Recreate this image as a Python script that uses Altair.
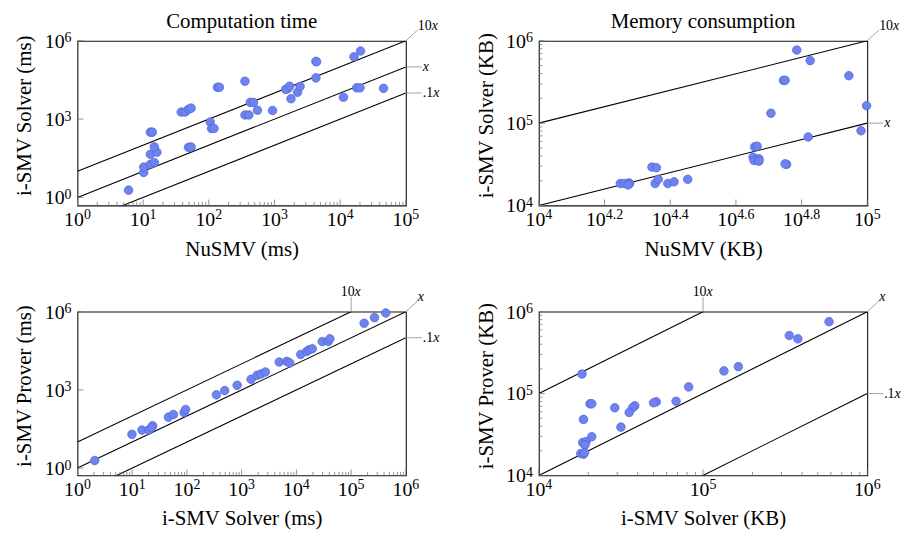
import altair as alt
import pandas as pd
import numpy as np

FONT = "Liberation Serif"
PT_FILL = "#6E83F0"
PT_STROKE = "#4F62D6"
TICK = "#777777"
PIN = "#8a8a8a"

# ---- data ----
# Computation time: NuSMV (ms) vs i-SMV Solver (ms)
ct_nusmv = [6.0, 10.2, 10.2, 12.9, 14.8, 12.9, 16.2, 14.8, 12.9, 13.8, 49, 53.7, 38, 43.6,
            49, 53.7, 105, 110, 120, 135, 145, 355, 355, 407, 427, 479, 550, 933, 1585,
            1480, 1700, 1780, 2240, 2450, 4270, 4270, 4365, 11200, 16200, 20400, 17800,
            20000, 45700]
ct_solver = [1.9, 9.0, 14.5, 18.6, 21.6, 45, 54, 87, 316, 316, 83, 85, 1860, 1860, 2400,
             2630, 776, 437, 437, 16600, 16600, 28200, 1445, 1445, 4365, 4365, 2190, 2140,
             14450, 13800, 18200, 6030, 10700, 17800, 38000, 162000, 158000, 6900, 245000,
             407000, 15800, 15800, 15100]
# Memory consumption: NuSMV (KB) vs i-SMV Solver (KB)
mem_nusmv = [61000, 67000, 87900, 55600, 56200, 50900, 99500, 95700, 66100, 45400, 46200,
             44900, 45200, 46800, 46800, 56800, 56200, 22100, 22800, 22600, 23100, 17700,
             18200, 18800, 18900, 18700, 24700, 25800, 28400]
mem_solver = [773000, 575000, 377000, 331000, 331000, 132000, 163000, 80900, 67900, 51500,
              52500, 38600, 35200, 37000, 34600, 31600, 32000, 29300, 28800, 18500, 20800,
              18500, 18500, 18800, 18500, 17800, 18500, 19400, 20800]
# i-SMV Solver (ms) vs i-SMV Prover (ms)
pr_solver_ms = [2.07, 9.9, 15.1, 20, 23.6, 22.4, 45.9, 56.6, 88.5, 94.6, 345, 490, 828, 1486,
                1910, 2250, 2710, 4860, 6680, 7570, 12000, 15400, 17000, 19500, 29600, 38000,
                40800, 173000, 267000, 429000]
pr_prover_ms = [1.95, 19.7, 28.7, 28.7, 42.3, 35.5, 90, 114, 136, 177, 646, 940, 1500, 2540,
                3600, 4070, 4860, 11700, 12400, 10700, 22900, 29700, 34500, 37700, 71600,
                71600, 90800, 361000, 590000, 891000]
# i-SMV Solver (KB) vs i-SMV Prover (KB)
pr_solver_kb = [585000, 335000, 378000, 164000, 134000, 81700, 68500, 51900, 50000, 38400,
                37200, 35500, 29000, 31600, 20500, 21000, 18300, 18700, 21000, 18500, 19400,
                19100, 18000, 18700, 19000]
pr_prover_kb = [755000, 511000, 466000, 213000, 189000, 120500, 80500, 79300, 77100, 71000,
                67000, 58700, 67000, 38900, 75000, 75000, 173000, 48300, 29700, 25200, 25900,
                23600, 18500, 18200, 19000]

# tick label positions
p1_xlabels = [1, 10, 100, 1e3, 1e4, 1e5]
p1_ylabels = [1, 1e3, 1e6]
p2_xlabels = [1e4, 10 ** 4.2, 10 ** 4.4, 10 ** 4.6, 10 ** 4.8, 1e5]
p2_ylabels = [1e4, 1e5, 1e6]
p3_xlabels = [1, 10, 100, 1e3, 1e4, 1e5, 1e6]
p3_ylabels = [1, 1e3, 1e6]
p4_xlabels = [1e4, 1e5, 1e6]
p4_ylabels = [1e4, 1e5, 1e6]

line_coefs = [10, 1, 0.1]

W = 331
BASE_FS = 20
EXP_FS = 14


def exp_str(v):
    return "%g" % round(float(np.log10(v)), 1)


def exp_width(s):
    return sum(3.5 if c == "." else 7.0 for c in s)


def minor_ticks(lo, hi):
    return [m * 10.0 ** d for d in range(lo, hi) for m in range(2, 10)]


def panel(xs, ys, xdom, ydom, xlab, ylab, xtitle, ytitle, H, coefs, xline,
          xmajor, xminor, ymajor, yminor, pins, title=None):
    xsc = alt.Scale(type="log", domain=xdom, nice=False)
    ysc = alt.Scale(type="log", domain=ydom, nice=False)
    xax = alt.Axis(values=xlab, labels=False, title=xtitle,
                   titleY=50, titleBaseline="alphabetic")
    yax = alt.Axis(values=ylab, labels=False, title=ytitle,
                   titleX=-47, titleY=H / 2 - 8, titleBaseline="alphabetic")
    X = lambda f: alt.X(f, type="quantitative", scale=xsc, axis=xax)
    Y = lambda f: alt.Y(f, type="quantitative", scale=ysc, axis=yax)

    layers = []
    # reference lines y = k x
    rows = []
    for k in coefs:
        for xv in xline:
            rows.append({"x": xv, "y": k * xv, "k": str(k)})
    layers.append(alt.Chart(pd.DataFrame(rows)).mark_line(
        clip=True, color="black", strokeWidth=1.1).encode(
        x=X("x"), y=Y("y"), detail="k:N"))

    # inside ticks
    def xt(vals, L):
        return alt.Chart(pd.DataFrame({"x": vals})).mark_rule(
            color=TICK, strokeWidth=0.8).encode(
            x=X("x"), y=alt.value(H), y2=alt.value(H - L))

    def yt(vals, L):
        return alt.Chart(pd.DataFrame({"y": vals})).mark_rule(
            color=TICK, strokeWidth=0.8).encode(
            y=Y("y"), x=alt.value(0), x2=alt.value(L))

    if xmajor:
        layers.append(xt(xmajor, 6))
    if xminor:
        layers.append(xt(xminor, 3.5))
    if ymajor:
        layers.append(yt(ymajor, 6))
    if yminor:
        layers.append(yt(yminor, 3.5))

    # tick labels 10^e  (base + raised exponent)
    xdf = pd.DataFrame({"x": xlab, "e": [exp_str(v) for v in xlab]})
    xdf["n"] = xdf["e"].str.len()
    for n, g in xdf.groupby("n"):
        ew = exp_width(g["e"].iloc[0])
        d = (20 - ew) / 2
        c = alt.Chart(g)
        layers.append(c.mark_text(text="10", font=FONT, fontSize=BASE_FS, align="right",
                                  baseline="alphabetic", dx=d, color="black")
                      .encode(x=X("x"), y=alt.value(H + 21)))
        layers.append(c.mark_text(font=FONT, fontSize=EXP_FS, align="left",
                                  baseline="alphabetic", dx=d, color="black")
                      .encode(x=X("x"), y=alt.value(H + 14), text="e:N"))
    ydf = pd.DataFrame({"y": ylab, "e": [exp_str(v) for v in ylab]})
    ew = exp_width(ydf["e"].iloc[0])
    c = alt.Chart(ydf)
    layers.append(c.mark_text(text="10", font=FONT, fontSize=BASE_FS, align="right",
                              baseline="alphabetic", dy=7, dx=-6 - ew, color="black")
                  .encode(x=alt.value(0), y=Y("y")))
    layers.append(c.mark_text(font=FONT, fontSize=EXP_FS, align="right",
                              baseline="alphabetic", dy=1.5, dx=-6, color="black")
                  .encode(x=alt.value(0), y=Y("y"), text="e:N"))

    # pins and labels
    for (xe, ye, kind, coef) in pins:
        d = pd.DataFrame({"x": [xe], "y": [ye]})
        base = alt.Chart(d)
        if kind == "diag":
            ox, oy = 12, -11
            layers.append(base.mark_rule(color=PIN, strokeWidth=0.8, x2Offset=ox,
                                         y2Offset=oy).encode(x=X("x"), y=Y("y"), x2="x", y2="y"))
            cw = 14 * 0.5 * len(coef)
            if coef:
                layers.append(base.mark_text(text=coef, font=FONT, fontSize=14, align="left",
                                             baseline="alphabetic", dx=ox, dy=oy, color="black")
                              .encode(x=X("x"), y=Y("y")))
            layers.append(base.mark_text(text="x", font=FONT, fontSize=14, fontStyle="italic",
                                         align="left", baseline="alphabetic", dx=ox + cw, dy=oy,
                                         color="black").encode(x=X("x"), y=Y("y")))
        elif kind == "horiz":
            ox = 16
            layers.append(base.mark_rule(color=PIN, strokeWidth=0.8, x2Offset=ox)
                          .encode(x=X("x"), y=Y("y"), x2="x", y2="y"))
            cw = 10.5 if coef == ".1" else 0
            if coef:
                layers.append(base.mark_text(text=coef, font=FONT, fontSize=14, align="left",
                                             baseline="middle", dx=ox + 1, color="black")
                              .encode(x=X("x"), y=Y("y")))
            layers.append(base.mark_text(text="x", font=FONT, fontSize=14, fontStyle="italic",
                                         align="left", baseline="middle", dx=ox + 1 + cw,
                                         color="black").encode(x=X("x"), y=Y("y")))
        else:  # vertical
            oy = -15
            layers.append(base.mark_rule(color=PIN, strokeWidth=0.8, y2Offset=oy)
                          .encode(x=X("x"), y=Y("y"), x2="x", y2="y"))
            layers.append(base.mark_text(text=coef, font=FONT, fontSize=14, align="right",
                                         baseline="alphabetic", dx=3.5, dy=oy - 1, color="black")
                          .encode(x=X("x"), y=Y("y")))
            layers.append(base.mark_text(text="x", font=FONT, fontSize=14, fontStyle="italic",
                                         align="left", baseline="alphabetic", dx=3.5, dy=oy - 1,
                                         color="black").encode(x=X("x"), y=Y("y")))

    # points
    layers.append(alt.Chart(pd.DataFrame({"x": xs, "y": ys})).mark_circle(
        size=75, color=PT_FILL, opacity=1, stroke=PT_STROKE, strokeWidth=0.7).encode(
        x=X("x"), y=Y("y")))

    props = dict(width=W, height=H)
    if title:
        props["title"] = alt.TitleParams(title, font=FONT, fontSize=21, fontWeight="normal",
                                         color="black", frame="group", baseline="alphabetic",
                                         offset=-30)
    return alt.layer(*layers).properties(**props)


p1 = panel(ct_nusmv, ct_solver, [1, 1e5], [10 ** -0.31, 1e6], p1_xlabels, p1_ylabels,
           "NuSMV (ms)", "i-SMV Solver (ms)", 166, line_coefs, [1, 1e5],
           p1_xlabels, minor_ticks(0, 5), p1_ylabels, None,
           [(1e5, 1e6, "diag", "10"), (1e5, 1e5, "horiz", ""), (1e5, 1e4, "horiz", ".1")],
           title="Computation time")
p2 = panel(mem_nusmv, mem_solver, [1e4, 1e5], [1e4, 1e6], p2_xlabels, p2_ylabels,
           "NuSMV (KB)", "i-SMV Solver (KB)", 166, [10, 1], [1e4, 1e5],
           p2_xlabels, None, p2_ylabels, minor_ticks(4, 6),
           [(1e5, 1e6, "diag", "10"), (1e5, 1e5, "horiz", "")],
           title="Memory consumption")
p3 = panel(pr_solver_ms, pr_prover_ms, [1, 1e6], [10 ** -0.28, 1e6], p3_xlabels, p3_ylabels,
           "i-SMV Solver (ms)", "i-SMV Prover (ms)", 165, line_coefs, [1, 1e6],
           p3_xlabels, minor_ticks(0, 6), p3_ylabels, None,
           [(1e5, 1e6, "vert", "10"), (1e6, 1e6, "diag", ""), (1e6, 1e5, "horiz", ".1")])
p4 = panel(pr_solver_kb, pr_prover_kb, [1e4, 1e6], [1e4, 1e6], p4_xlabels, p4_ylabels,
           "i-SMV Solver (KB)", "i-SMV Prover (KB)", 165, line_coefs, [1e4, 1e6],
           p4_xlabels, minor_ticks(4, 6), p4_ylabels, minor_ticks(4, 6),
           [(1e5, 1e6, "vert", "10"), (1e6, 1e6, "diag", ""), (1e6, 1e5, "horiz", ".1")])

chart = alt.concat(p1, p2, p3, p4, columns=2, spacing={"row": 107, "column": 134},
                   bounds="flush").properties(
    padding={"left": 5, "top": 0, "right": 0, "bottom": 0}
).configure_view(stroke="#111111", strokeWidth=1.1).configure_axis(
    titleFont=FONT, titleFontSize=21, titleFontWeight="normal", titleColor="black",
    ticks=False, tickSize=0, domain=False, grid=False, labels=False
)

chart.save("out.html", embed_options={"renderer": "svg", "actions": False})
